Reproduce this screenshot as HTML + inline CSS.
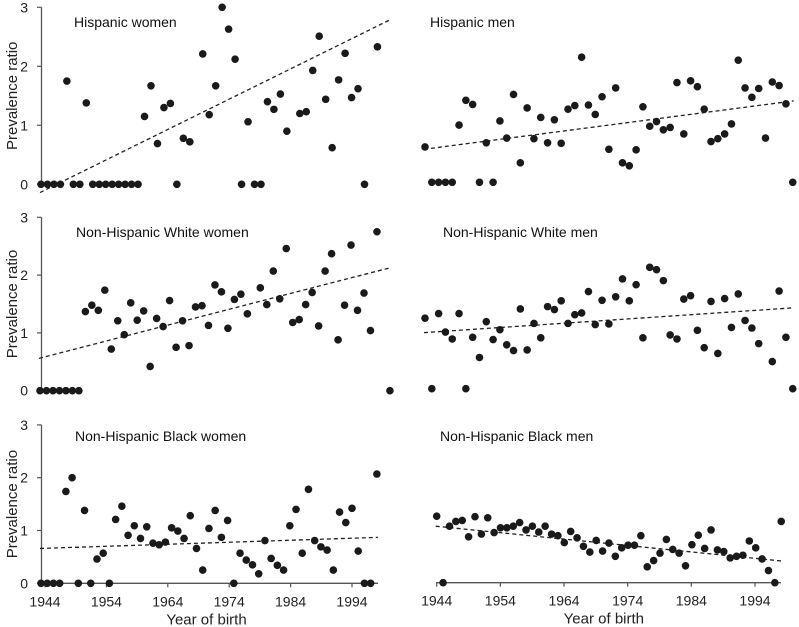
<!DOCTYPE html>
<html><head><meta charset="utf-8"><style>
body{margin:0;background:#fff;}
svg{display:block;font-family:"Liberation Sans",sans-serif;}
</style></head><body>
<svg id="chart" width="799" height="627" viewBox="0 0 799 627"></svg>
<script>
const N=null;
const years=[];for(let y=1944;y<=1998;y++)years.push(y);
const hispWomen=[0,0,0,0,1.75,0,0,1.38,0,0,0,0,0,0,0,0,1.15,1.67,0.69,1.30,1.37,0,0.78,0.72,N,2.21,1.18,1.67,3.0,2.63,2.12,0,1.06,0,0,1.40,1.27,1.53,0.90,N,1.20,1.23,1.93,2.51,1.44,0.62,1.77,2.22,1.47,1.62,0,N,2.33,N,N];
const hispMen=[0.60,0,0,0,0,0.97,1.39,1.32,0,0.67,0,1.04,0.75,1.49,0.33,1.26,0.74,1.10,0.67,1.06,0.66,1.24,1.30,2.12,1.31,1.15,1.45,0.56,1.60,0.33,0.28,0.55,1.28,0.95,1.03,0.89,0.93,1.69,0.82,1.72,1.62,1.24,0.69,0.74,0.82,0.99,2.07,1.60,1.44,1.59,0.75,1.70,1.64,1.33,0];
const whiteWomen=[0,0,0,0,0,0,0,1.37,1.48,1.39,1.74,0.72,1.21,0.97,1.52,1.22,1.38,0.42,1.25,1.11,1.56,0.75,1.21,0.78,1.45,1.47,1.13,1.83,1.71,1.08,1.58,1.67,1.33,N,1.78,1.49,2.07,1.59,2.46,1.18,1.23,1.49,1.70,1.12,2.07,2.37,0.88,1.48,2.52,1.39,1.69,1.04,2.75,N,0];
const whiteMen=[1.22,0,1.30,0.98,0.86,1.30,0,0.89,0.54,1.16,0.85,1.02,0.76,0.66,1.38,0.67,1.13,0.88,1.42,1.37,1.52,1.13,1.28,1.31,1.68,1.11,1.53,1.12,1.59,1.90,1.52,1.80,0.88,2.10,2.06,1.87,0.93,0.86,1.55,1.61,1.01,0.71,1.51,0.61,1.56,1.06,1.64,1.18,1.05,0.78,N,0.47,1.69,0.89,0];
const blackWomen=[0,0,0,0,1.74,2.00,0,1.38,0,0.46,0.57,0,1.21,1.46,0.91,1.09,0.85,1.07,0.76,0.73,0.78,1.05,0.99,0.85,1.28,0.66,0.25,1.04,1.38,0.87,1.19,0,0.57,0.44,0.35,0.18,0.81,0.47,0.34,0.25,1.09,1.40,0.57,1.78,0.81,0.69,0.63,0.25,1.35,1.15,1.42,0.61,0,0,2.07];
const blackMen=[1.26,0,1.07,1.16,1.18,0.87,1.25,0.92,1.23,0.95,1.04,1.04,1.07,1.14,1.00,1.07,0.96,1.07,0.92,0.89,0.76,0.97,0.85,0.69,0.58,0.80,0.60,0.75,0.50,0.66,0.71,0.71,0.89,0.30,0.42,0.56,0.82,0.63,0.56,0.32,0.72,0.90,0.65,1.00,0.62,0.59,0.47,0.50,0.52,0.79,0.66,0.45,0.23,0,1.16];
const trendStart=[-0.14,0.56,0.56,0.97,0.66,1.07];
const trendEnd=[2.8,1.38,2.13,1.40,0.87,0.41];
const titles=["Hispanic women","Hispanic men","Non-Hispanic White women","Non-Hispanic White men","Non-Hispanic Black women","Non-Hispanic Black men"];
const yTicks=[0,1,2,3];
const xTicks=[1944,1954,1964,1974,1984,1994];
const series=[hispWomen,hispMen,whiteWomen,whiteMen,blackWomen,blackMen];

const layout=[
 {x0:41,step:6.47,zero:184.3,unit:59,left:true,tx:74,ty:27,xaxis:false},
 {x0:425,step:6.81,zero:182.3,unit:59,left:false,tx:430,ty:27,xaxis:false},
 {x0:40,step:6.48,zero:390.7,unit:57.8,left:true,tx:76,ty:237,xaxis:false},
 {x0:425,step:6.81,zero:388.7,unit:57.8,left:false,tx:443,ty:237,xaxis:false},
 {x0:41,step:6.22,zero:583.3,unit:52.8,left:true,tx:75,ty:441,xaxis:true,ax0:41,ax1:378,t0:45,t1:352},
 {x0:436.7,step:6.38,zero:582.7,unit:52.8,left:false,tx:440,ty:441,xaxis:true,ax0:436,ax1:781,t0:436.7,t1:755}
];
const NS="http://www.w3.org/2000/svg";
const svg=document.getElementById('chart');
function mk(tag,attrs,parent){const e=document.createElementNS(NS,tag);for(const k in attrs)e.setAttribute(k,attrs[k]);(parent||svg).appendChild(e);return e;}
layout.forEach((L,p)=>{
  const g=mk('g',{});
  
  
  const xs=i=>L.x0+i*L.step;
  const ys=v=>L.zero-v*L.unit;
  if(L.left){
    const ax=mk('line',{x1:41.5,x2:41.5,y1:ys(3),y2:ys(0),stroke:'#555','stroke-width':1.3},g);
    
    
    yTicks.forEach(t=>{
      mk('line',{x1:37,x2:41.5,y1:ys(t),y2:ys(t),stroke:'#555','stroke-width':1.2},g);
      const tl=mk('text',{x:28,y:ys(t)+5,'font-size':14,'text-anchor':'end',fill:'#222'},g);
      tl.textContent=t;
      
      
    });
    const yt=mk('text',{x:0,y:0,'font-size':15,'text-anchor':'middle',fill:'#222',transform:`translate(17,${ys(1.5)}) rotate(-90)`},g);
    yt.textContent='Prevalence ratio';
    
    
  }
  if(L.xaxis){
    const xa=mk('line',{x1:L.ax0,x2:L.ax1,y1:L.zero,y2:L.zero,stroke:'#555','stroke-width':1.3},g);
    
    
    const tx=yr=>L.t0+(yr-1944)*(L.t1-L.t0)/50;
    xTicks.forEach(t=>{
      mk('line',{x1:tx(t),x2:tx(t),y1:L.zero,y2:L.zero+4,stroke:'#555','stroke-width':1.2},g);
      const tl=mk('text',{x:tx(t),y:L.zero+23,'font-size':14,'text-anchor':'middle',fill:'#222'},g);
      tl.textContent=t;
      
      
    });
    const xt=mk('text',{x:(L.t0+L.t1)/2+8,y:L.zero+41,'font-size':15,'text-anchor':'middle',fill:'#222'},g);
    xt.textContent='Year of birth';
    
    
  }
  const tt=mk('text',{x:L.tx,y:L.ty,'font-size':14,fill:'#111'},g);
  tt.textContent=titles[p];
  
  
  const last=years.length-1;
  const tr=mk('line',{x1:xs(0)-1,y1:ys(trendStart[p]),x2:xs(last)+1,y2:ys(trendEnd[p]),stroke:'#222','stroke-width':1.3,'stroke-dasharray':'4 3'},g);
  
  
  series[p].forEach((v,i)=>{
    if(v===null)return;
    const c=mk('circle',{cx:xs(i),cy:ys(v),r:3.8,fill:'#1a1a1a'},g);
    
    
  });
});
</script>
</body></html>
